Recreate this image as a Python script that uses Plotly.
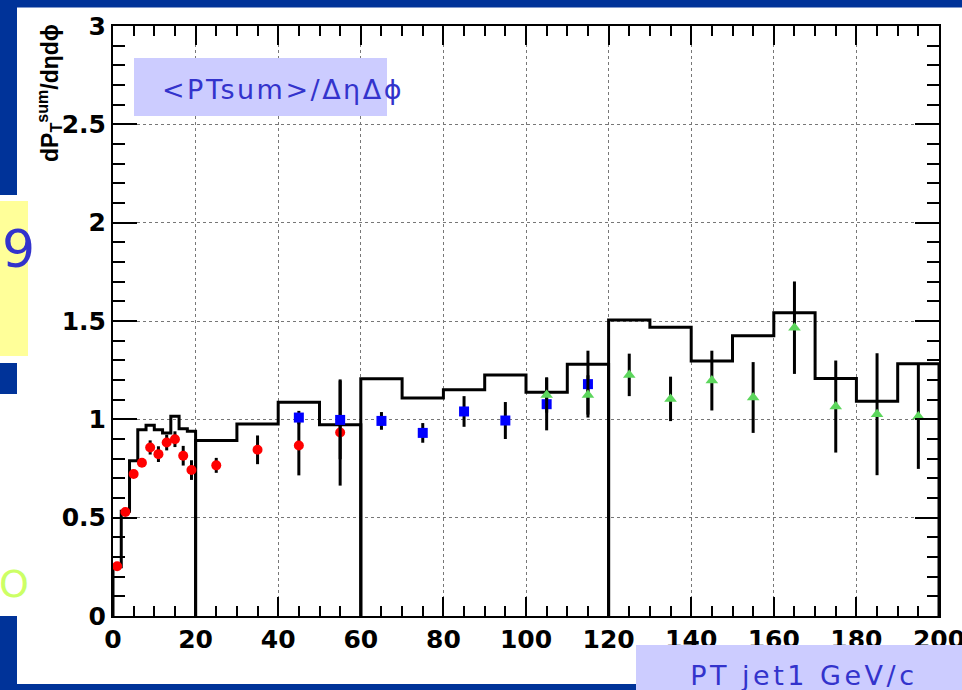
import plotly.graph_objects as go

# ---------------- data ----------------
# reference histogram, one block per trigger sample (bin edges + heights)
hist_edges_a = [0, 2, 4, 6, 8, 10, 12, 14, 16, 18, 20]
hist_vals_a = [0.25, 0.532, 0.790, 0.947, 0.970, 0.947, 0.930, 1.016, 0.952, 0.940]
hist_edges_b = [20, 30, 40, 50, 60]
hist_vals_b = [0.892, 0.976, 1.087, 0.972]
hist_edges_c = [60, 70, 80, 90, 100, 110, 120]
hist_vals_c = [1.206, 1.108, 1.150, 1.226, 1.138, 1.280]
hist_edges_d = [120, 130, 140, 150, 160, 170, 180, 190, 200]
hist_vals_d = [1.505, 1.468, 1.297, 1.425, 1.542, 1.207, 1.092, 1.282]

# measured points
red_x = [1, 3, 5, 7, 9, 11, 13, 15, 17, 19, 25, 35, 45, 55]
red_y = [0.253, 0.529, 0.722, 0.779, 0.857, 0.823, 0.882, 0.899, 0.815, 0.742,
         0.766, 0.845, 0.867, 0.933]
red_err = [0.01, 0.01, 0.015, 0.02, 0.036, 0.04, 0.04, 0.04, 0.05, 0.05,
           0.038, 0.073, 0.152, 0.27]

blue_x = [45, 55, 65, 75, 85, 95, 105, 115]
blue_y = [1.009, 0.997, 0.992, 0.931, 1.040, 0.994, 1.077, 1.179]
blue_err = [0.034, 0.20, 0.045, 0.05, 0.078, 0.094, 0.133, 0.17]

green_x = [105, 115, 125, 135, 145, 155, 165, 175, 185, 195]
green_y = [1.124, 1.124, 1.226, 1.104, 1.197, 1.111, 1.466, 1.065, 1.026, 1.014]
green_err = [0.09, 0.10, 0.108, 0.113, 0.152, 0.18, 0.235, 0.234, 0.31, 0.266]

x_ticks = [0, 20, 40, 60, 80, 100, 120, 140, 160, 180, 200]
y_ticks = [0, 0.5, 1, 1.5, 2, 2.5, 3]

# ---------------- figure ----------------
W, H = 962, 690
L, R, T, B = 113, 23, 26, 74
PW, PH = W - L - R, H - T - B


def px(x):
    return (x - L) / PW


def py(y):
    return (H - B - y) / PH


SLIDE_BLUE = "#003399"
TEXT_BLUE = "#3333CC"
LAVENDER = "#CCCCFF"

fig = go.Figure()


def step_trace(edges, vals):
    xs = [edges[0]] + edges[:-1] + [edges[-1]]
    ys = [0] + vals + [0]
    return go.Scatter(x=xs, y=ys, mode="lines", line_shape="hv",
                      line=dict(color="black", width=3), hoverinfo="skip")


for e, v in [(hist_edges_a, hist_vals_a), (hist_edges_b, hist_vals_b),
             (hist_edges_c, hist_vals_c), (hist_edges_d, hist_vals_d)]:
    fig.add_trace(step_trace(e, v))


def points(x, y, err, color, symbol, size):
    return go.Scatter(
        x=x, y=y, mode="markers",
        marker=dict(color=color, symbol=symbol, size=size, line=dict(width=0)),
        error_y=dict(type="data", array=err, color="black", thickness=3, width=0),
    )


fig.add_trace(points(red_x, red_y, red_err, "#FF0000", "circle", 10))
fig.add_trace(points(blue_x, blue_y, blue_err, "#0000FF", "square", 10))
fig.add_trace(points(green_x, green_y, green_err, "#5CD65C", "triangle-up", 11))

tickfont = dict(family="DejaVu Sans", size=25, color="black", weight="bold")
common = dict(
    showgrid=True, gridcolor="#777777", griddash="dot", gridwidth=1,
    ticks="inside", tickcolor="black", tickwidth=1.5,
    showline=True, linecolor="black", linewidth=2, mirror="ticks",
    zeroline=False, tickfont=tickfont, ticklabeloverflow="allow",
    automargin=False,
)
fig.update_xaxes(range=[0, 200], tickvals=x_ticks, ticklen=19,
                 minor=dict(dtick=5, tick0=0, ticks="inside", ticklen=10,
                            tickwidth=1.5, tickcolor="black", showgrid=False),
                 **common)
fig.update_yaxes(range=[0, 3], tickvals=y_ticks, ticklen=24,
                 minor=dict(dtick=0.1, tick0=0, ticks="inside", ticklen=12,
                            tickwidth=1.5, tickcolor="black", showgrid=False),
                 **common)

# slide decorations around the plot
def rect(x0, y0, x1, y1, color, layer="above"):
    return dict(type="rect", xref="paper", yref="paper",
                x0=px(x0), x1=px(x1), y0=py(y1), y1=py(y0),
                fillcolor=color, line=dict(width=0), layer=layer)


shapes = [
    rect(0, 0, W, 7.5, SLIDE_BLUE),
    rect(0, 0, 17, 195, SLIDE_BLUE),
    rect(0, 201, 28, 356, "#FFFF99"),
    rect(0, 363, 17, 394, SLIDE_BLUE),
    rect(0, 616, 17, H, SLIDE_BLUE),
    rect(0, 684, 636, H, SLIDE_BLUE),
    rect(636, 645, W, H, LAVENDER),
    rect(134, 58, 387, 116, LAVENDER),
]

annotations = [
    dict(text="9", x=px(18.5), y=py(249), xref="paper", yref="paper",
         showarrow=False, xanchor="center", yanchor="middle",
         font=dict(family="DejaVu Sans", size=52, color=TEXT_BLUE)),
    dict(text="O", x=px(13.5), y=py(584), xref="paper", yref="paper",
         showarrow=False, xanchor="center", yanchor="middle",
         font=dict(family="DejaVu Sans", size=38, color="#CCFF66")),
    dict(text="&lt;PTsum&gt;/ΔηΔϕ", x=px(283), y=py(90), xref="paper", yref="paper",
         showarrow=False, xanchor="center", yanchor="middle",
         font=dict(family="DejaVu Sans", size=27, color=TEXT_BLUE)),
    dict(text="PT jet1 GeV/c", x=px(804), y=py(675), xref="paper", yref="paper",
         showarrow=False, xanchor="center", yanchor="middle",
         font=dict(family="DejaVu Sans", size=27, color=TEXT_BLUE)),
    dict(text="dP<sub>T</sub><sup>sum</sup>/dηdϕ", x=px(49), y=py(93),
         xref="paper", yref="paper", textangle=-90,
         showarrow=False, xanchor="center", yanchor="middle",
         font=dict(family="Liberation Sans", size=23, color="black", weight="bold")),
]

fig.update_layout(
    width=W, height=H,
    margin=dict(l=L, r=R, t=T, b=B, autoexpand=False),
    paper_bgcolor="white", plot_bgcolor="white", showlegend=False,
    shapes=shapes, annotations=annotations,
)

# open up the slide captions with a little letter spacing
spacing_js = """
var gd = document.getElementById('{plot_id}');
gd.querySelectorAll('text.annotation-text').forEach(function (t) {
  var s = t.textContent || '';
  if (s.indexOf('<PT') === 0) {
    t.style.letterSpacing = '2.5px';
  } else if (s.indexOf('PT ') === 0) {
    t.style.letterSpacing = '3.5px';
  }
});
"""

fig.write_html("out.html", post_script=spacing_js)
